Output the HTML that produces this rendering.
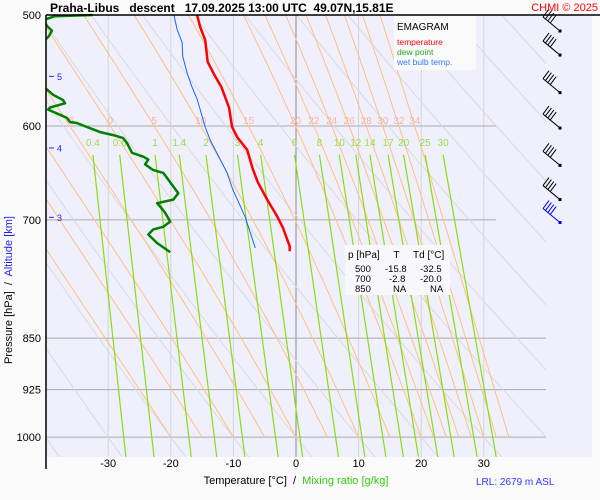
<!DOCTYPE html>
<html><head><meta charset="utf-8">
<style>
html,body{margin:0;padding:0;background:#fafafa;}
svg{display:block;font-family:"Liberation Sans",sans-serif;}
text{white-space:pre;}
</style></head>
<body>
<svg id="chart" width="600" height="500" viewBox="0 0 600 500" xmlns="http://www.w3.org/2000/svg" xml:space="preserve">
<defs><clipPath id="plotclip"><rect x="46" y="15" width="500" height="442"/></clipPath>
<clipPath id="dataclip"><rect x="46" y="0" width="546" height="457"/></clipPath></defs>
<rect x="0" y="0" width="600" height="500" fill="#fafafa"/>
<rect x="46" y="15" width="546" height="442" fill="#f0f0fc"/>
<g id="grid"></g>
<g id="isolines" clip-path="url(#plotclip)"></g>
<g id="labels"></g>
<g id="series" clip-path="url(#dataclip)"></g>
<g id="barbs"></g>
<line x1="46" y1="15" x2="600" y2="15" stroke="#000" stroke-width="1.5"/>
<line x1="46" y1="15" x2="46" y2="469" stroke="#000" stroke-width="1.5"/>
<text x="50" y="12" font-size="12" font-weight="bold">Praha-Libus   descent   17.09.2025 13:00 UTC  49.07N,15.81E</text>
<text x="598" y="11" font-size="11" fill="#ff0000" text-anchor="end">CHMI © 2025</text>
<g>
<rect x="394" y="16" width="82" height="54" fill="#fafafa"/>
<text x="397" y="30" font-size="10">EMAGRAM</text>
<text x="397" y="45" font-size="8.5" fill="#ff0000">temperature</text>
<text x="397" y="55" font-size="8.5" fill="#22aa22">dew point</text>
<text x="397" y="65" font-size="8.5" fill="#3377ff">wet bulb temp.</text>
</g>
<g>
<rect x="345" y="245" width="105" height="50" fill="#f8f8fc"/>
<text x="348" y="258" font-size="10">p [hPa]     T     Td [°C]</text>
<text font-size="9.5"><tspan x="355" y="272">500</tspan><tspan x="385" y="272">-15.8</tspan><tspan x="420" y="272">-32.5</tspan><tspan x="355" y="282">700</tspan><tspan x="389" y="282">-2.8</tspan><tspan x="420" y="282">-20.0</tspan><tspan x="355" y="292">850</tspan><tspan x="393" y="292">NA</tspan><tspan x="430" y="292">NA</tspan></text>
</g>
<text x="296" y="484" font-size="11" text-anchor="middle">Temperature [°C]  /  <tspan fill="#33cc11">Mixing ratio [g/kg]</tspan></text>
<text x="476" y="485" font-size="10" fill="#3333ff">LRL: 2679 m ASL</text>
<text transform="translate(12,290) rotate(-90)" font-size="11" text-anchor="middle">Pressure [hPa]  /  <tspan fill="#2222ee">Altitude [km]</tspan></text>
<script>
const tempTicks=[-30,-20,-10,0,10,20,30];
const pressTicks=[500,600,700,850,925,1000];
const altKm=[5,4,3];
const altP=[553,622,697];
const moistThetaW=[-20,-15,-10,-5,0,5,10,15,20,22,24,26,28,30,32,34];
const moistLabels=[-5,0,5,10,15,20,22,24,26,28,30,32,34];
const dryTheta=[-40,-30,-20,-10,0,10,20,30,40,50,60,70,80,90,100,110,120];
const mixRatios=[0.4,0.6,1,1.4,2,3,4,6,8,10,12,14,17,20,25,30];
const tP=[500,510,521,540,552,563,582,601,611,624,644,658,677,696,709,731,737];
const tT=[-15.8,-15.3,-14.5,-14.1,-13.0,-11.9,-10.7,-10.2,-9.4,-7.8,-6.9,-6.1,-4.6,-3.0,-2.1,-1.0,-1.0];
const wP=[500,512,523,535,550,563,574,584,601,614,634,648,666,681,697,715,733];
const wT=[-19.5,-19.0,-18.2,-18.1,-17.4,-16.6,-15.8,-15.3,-14.5,-13.7,-12.1,-11.0,-10.1,-9.1,-8.1,-7.3,-6.5];
const dP=[500,501,504,509,513,518,522,538,561,570,575,578,582,584,589,592,596,597,601,606,609,612,617,627,631,634,639,645,648,658,670,677,681,685,692,702,708,711,717,727,738];
const dT=[-32.5,-38.5,-40.3,-39.8,-39.0,-39.5,-40.3,-40.9,-40.6,-38.8,-37.2,-36.9,-39.3,-39.6,-37.7,-36.6,-36.1,-35.0,-33.4,-31.3,-29.2,-27.6,-27.0,-26.2,-24.4,-23.6,-24.1,-22.8,-21.2,-20.1,-18.8,-19.6,-22.2,-21.7,-20.9,-20.1,-21.2,-22.8,-23.6,-22.2,-20.1];
const windP=[502,534,568,602,640,677,703];

const NS='http://www.w3.org/2000/svg';
function xT(t){return 296+6.26*t;}
function yP(p){return 15+609*Math.log(p/500);}
function mk(tag,attrs,parent){const e=document.createElementNS(NS,tag);for(const k in attrs)e.setAttribute(k,attrs[k]);parent.appendChild(e);return e;}
const grid=document.getElementById('grid'),iso=document.getElementById('isolines'),lab=document.getElementById('labels'),ser=document.getElementById('series'),barbs=document.getElementById('barbs');

tempTicks.forEach(t=>{
  const l=mk('line',{x1:xT(t),x2:xT(t),y1:15,y2:457,stroke:t===0?'#888':'#d4d4d8','stroke-width':1},grid);
  
  
  const tx=mk('text',{x:xT(t),y:467,'font-size':11,'text-anchor':'middle'},lab);tx.textContent=t;
  
  
});
pressTicks.forEach(p=>{
  if(p!==500){const l=mk('line',{x1:46,x2:(p<=700?496:546),y1:yP(p),y2:yP(p),stroke:'#aaa','stroke-width':1},grid);
  
  }
  const tx=mk('text',{x:41,y:yP(p)+4,'font-size':11,'text-anchor':'end'},lab);tx.textContent=p;
  
  
});
altKm.forEach((k,i)=>{
  const y=yP(altP[i]);
  const l=mk('line',{x1:49,x2:54,y1:y,y2:y,stroke:'#2222ee','stroke-width':1},lab);
  
  
  const tx=mk('text',{x:57,y:y+3.5,'font-size':9,fill:'#2222ee'},lab);tx.textContent=k;
  
  
});
dryTheta.forEach(th=>{
  const K=th+273.15;let pts=[];
  for(let p=1040;p>=500;p-=10){const T=K*Math.pow(p/1000,0.286)-273.15;pts.push(xT(T).toFixed(1)+','+yP(p).toFixed(1));}
  const l=mk('polyline',{points:pts.join(' '),fill:'none',stroke:'#dadade','stroke-width':1},iso);
  
  
});
function es(T){return 6.112*Math.exp(17.67*T/(T+243.5));}
function moist(tw){let T=tw,pts=[],p=1000,at600=null;
  while(p>=499){pts.push([p,T]);if(Math.abs(p-600)<0.5)at600=T;
    const Tk=T+273.15,e=es(T),rs=0.622*e/(p-e);
    const dTdp=(1/p)*(287*Tk+2.5e6*rs)/(1005+2.5e6*2.5e6*rs*0.622/(287*Tk*Tk));
    T-=dTdp*2;p-=2;}
  return {pts,at600};}
moistThetaW.forEach(tw=>{
  const m=moist(tw);
  const l=mk('polyline',{points:m.pts.map(a=>xT(a[1]).toFixed(1)+','+yP(a[0]).toFixed(1)).join(' '),fill:'none',stroke:'#ffc080','stroke-width':1},iso);
  
  
  if(moistLabels.includes(tw)){
    const tx=mk('text',{x:xT(m.at600),y:124,'font-size':10,'text-anchor':'middle',fill:'#ffb0a0'},lab);tx.textContent=tw;
    
    
  }
});
function tdFromW(w,p){const e=w*p/(622+w);const a=Math.log(e/6.112);return 243.5*a/(17.67-a);}
mixRatios.forEach(w=>{
  const p1=629,p2=1033;
  const l=mk('line',{x1:xT(tdFromW(w,p1)),y1:yP(p1),x2:xT(tdFromW(w,p2)),y2:yP(p2),stroke:'#88dd11','stroke-width':1.2},iso);
  
  
  const tx=mk('text',{x:xT(tdFromW(w,p1)),y:146,'font-size':10,'text-anchor':'middle',fill:'#99dd44'},lab);tx.textContent=w;
  
  
});
function prof(P,T,color,w,name){
  const l=mk('polyline',{points:P.map((p,i)=>xT(T[i]).toFixed(1)+','+yP(p).toFixed(1)).join(' '),fill:'none',stroke:color,'stroke-width':w,'stroke-linejoin':'round'},ser);
  
  
}
prof(wP,wT,'#1166ff',1,'wet-bulb-line');
prof(dP,dT,'#008000',2.5,'dew-point-line');
prof(tP,tT,'#ff0000',2.5,'temperature-line');
windP.forEach((p,i)=>{
  const y=Math.max(yP(p),31),x=560,c=i===windP.length-1?'#0000ff':'#000';
  const g=mk('g',{},barbs);
  
  
  const ex=x-17,ey=y-14;
  mk('line',{x1:x,y1:y,x2:ex,y2:ey,stroke:c,'stroke-width':1},g);
  mk('rect',{x:x-1.5,y:y-1.5,width:3,height:3,fill:c},g);
  for(let k=0;k<4;k++){const bx=ex+k*2.4,by=ey+k*2;mk('line',{x1:bx,y1:by,x2:bx+6,y2:by-8,stroke:c,'stroke-width':1},g);}
});
</script>
</svg>
</body></html>
